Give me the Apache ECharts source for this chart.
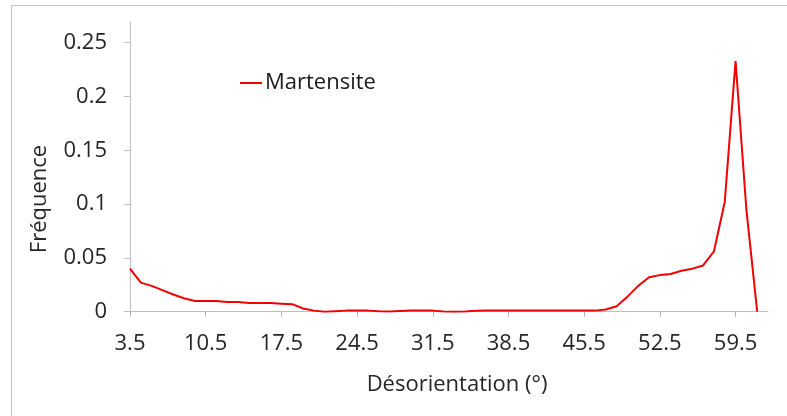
<!DOCTYPE html>
<html>
<head>
<meta charset="utf-8">
<script src="https://cdn.jsdelivr.net/npm/echarts@6/dist/echarts.min.js"></script>
<style>html,body{margin:0;padding:0;background:#fff}#c{width:787px;height:416px}</style>
</head>
<body>
<div id="c"></div>
<script>
const categories = ['3.5','4.5','5.5','6.5','7.5','8.5','9.5','10.5','11.5','12.5','13.5','14.5','15.5','16.5','17.5','18.5','19.5','20.5','21.5','22.5','23.5','24.5','25.5','26.5','27.5','28.5','29.5','30.5','31.5','32.5','33.5','34.5','35.5','36.5','37.5','38.5','39.5','40.5','41.5','42.5','43.5','44.5','45.5','46.5','47.5','48.5','49.5','50.5','51.5','52.5','53.5','54.5','55.5','56.5','57.5','58.5','59.5','60.5','61.5','62.5'];
const martensite = [0.040,0.027,0.024,0.020,0.016,0.0125,0.010,0.010,0.010,0.009,0.009,0.008,0.008,0.008,0.0075,0.007,0.003,0.001,0.000,0.0005,0.001,0.001,0.001,0.0005,0.0002,0.0006,0.001,0.001,0.001,0.0001,0.0,0.0003,0.0008,0.001,0.001,0.001,0.001,0.001,0.001,0.001,0.001,0.001,0.001,0.001,0.002,0.005,0.014,0.024,0.032,0.034,0.035,0.038,0.040,0.043,0.056,0.102,0.233,0.095,0.000,null];
const yTicks = [0,0.05,0.1,0.15,0.2,0.25];
const yLabels = ['0','0.05','0.1','0.15','0.2','0.25'];
const seriesName = 'Martensite';
const xTitle = 'Désorientation (°)';
const yTitle = 'Fréquence';

const font = '"Open Sans", sans-serif';
const chart = echarts.init(document.getElementById('c'), null, {renderer:'canvas'});
chart.setOption({
  animation:false,
  backgroundColor:'#fff',
  grid:{left:130, right:19, top:21.7, bottom:104.3, containLabel:false},
  legend:{
    data:[seriesName], left:240, top:72, padding:0, icon:'rect', itemWidth:22, itemHeight:2, itemGap:10,
    textStyle:{fontFamily:font, fontSize:22, color:'#1a1a1a', padding:[0,0,0,-2]}
  },
  xAxis:{
    type:'category', data:categories, boundaryGap:false,
    axisLine:{lineStyle:{color:'#bfbfbf', width:1}},
    axisTick:{show:true, interval:6, length:5, lineStyle:{color:'#b0b0b0'}},
    axisLabel:{interval:6, margin:21, fontFamily:font, fontSize:22, color:'#262626', hideOverlap:false},
    splitLine:{show:false}
  },
  yAxis:{
    type:'value', min:0, max:0.2695,
    axisLine:{show:true, lineStyle:{color:'#bfbfbf', width:1}},
    axisTick:{show:true, length:6, customValues:yTicks, lineStyle:{color:'#bfbfbf'}},
    axisLabel:{customValues:yTicks, margin:23, fontFamily:font, fontSize:22, color:'#262626',
      formatter:function(v){const i=yTicks.findIndex(t=>Math.abs(t-v)<1e-9);return i>=0?yLabels[i]:'';}},
    splitLine:{show:false}
  },
  graphic:[
    {type:'rect', shape:{x:11.5,y:5.5,width:800,height:500}, style:{fill:'none', stroke:'#c4c4c4', lineWidth:1}, silent:true, z:-1},
    {type:'text', x:457, y:385, style:{text:xTitle, font:'22px '+font, fill:'#262626', textAlign:'center', textVerticalAlign:'middle'}},
    {type:'text', x:40, y:199, rotation:Math.PI/2, style:{text:yTitle, font:'22px '+font, fill:'#262626', textAlign:'center', textVerticalAlign:'middle'}}
  ],
  series:[{
    name:seriesName, type:'line', data:martensite, showSymbol:false, symbol:'none',
    lineStyle:{color:'#f00000', width:2}, itemStyle:{color:'#f00000'}, connectNulls:false
  }]
});
</script>
</body>
</html>
